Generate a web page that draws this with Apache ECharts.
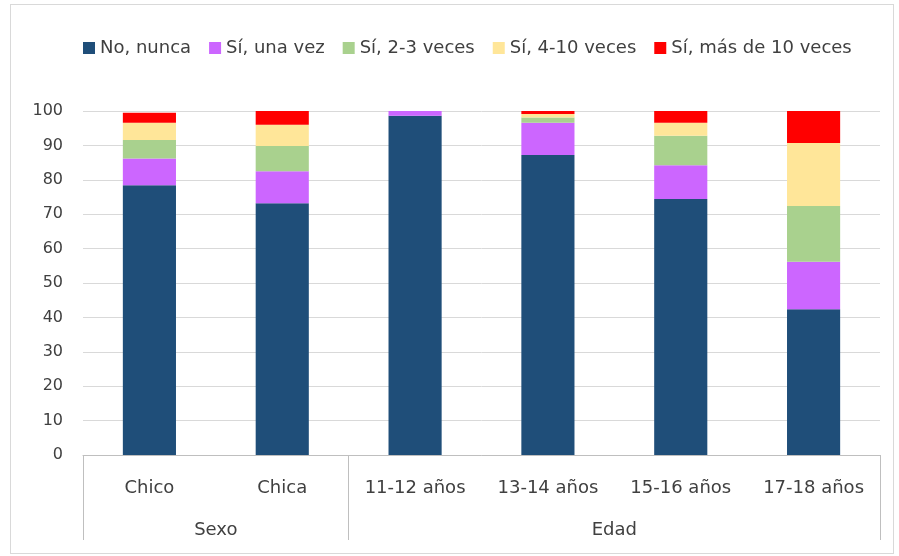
<!DOCTYPE html>
<html>
<head>
<meta charset="utf-8">
<script src="https://cdn.jsdelivr.net/npm/echarts@6/dist/echarts.min.js"></script>
<style>
html, body { margin: 0; padding: 0; background: #fff; }
#frame { position: absolute; left: 10px; top: 4px; width: 884px; height: 550px; border: 1px solid #d9d9d9; box-sizing: border-box; }
#main { position: absolute; left: 0; top: 0; width: 899px; height: 556px; }
</style>
</head>
<body>
<div id="frame"></div>
<div id="main"></div>
<script>
// categorias y grupos
const categories = ['Chico', 'Chica', '11-12 años', '13-14 años', '15-16 años', '17-18 años'];
const groupNames = ['Sexo', 'Edad'];
const groupSizes = [2, 4];

const seriesNames = ['No, nunca', 'Sí, una vez', 'Sí, 2-3 veces', 'Sí, 4-10 veces', 'Sí, más de 10 veces'];
const noNunca   = [78.4, 73.2, 98.6, 87.2, 74.4, 42.4];
const unaVez    = [7.8, 9.3, 1.4, 9.4, 9.8, 13.8];
const dosTres   = [5.4, 7.3, 0, 1.5, 8.6, 16.2];
const cuatroDiez = [5.0, 6.2, 0, 1.0, 3.8, 18.3];
const masDiez   = [2.9, 4.0, 0, 0.9, 3.4, 9.3];
const yTicks = [0, 10, 20, 30, 40, 50, 60, 70, 80, 90, 100];

const colors = ['#1F4E79', '#CC66FF', '#A9D18E', '#FFE699', '#FF0000'];
const values = [noNunca, unaVez, dosTres, cuatroDiez, masDiez];

// limites y centros de los grupos (en unidades de categoria)
let bounds = [0];
let centers = [];
groupSizes.forEach(function (s) {
    let start = bounds[bounds.length - 1];
    centers.push(start + s / 2);
    bounds.push(start + s);
});

let chart = echarts.init(document.getElementById('main'));
let font = 'DejaVu Sans';

let option = {
    animation: false,
    color: colors,
    legend: {
        left: 78,
        top: 34,
        itemWidth: 12,
        itemHeight: 12,
        itemGap: 18,
        icon: 'rect',
        textStyle: { fontFamily: font, fontSize: 18, color: '#404040' },
        data: seriesNames
    },
    grid: { left: 83, right: 19, top: 111, bottom: 101 },
    xAxis: [
        {
            type: 'category',
            data: categories,
            axisLine: { lineStyle: { color: '#BFBFBF' } },
            axisTick: { show: false },
            axisLabel: { fontFamily: font, fontSize: 18, color: '#404040', margin: 24, interval: 0 }
        },
        {
            type: 'value',
            min: 0,
            max: categories.length,
            position: 'bottom',
            axisLine: { show: false },
            splitLine: { show: false },
            axisTick: { show: true, customValues: bounds, length: 85, lineStyle: { color: '#BFBFBF' } },
            axisLabel: {
                customValues: centers,
                fontFamily: font, fontSize: 18, color: '#404040', margin: 66,
                formatter: function (v) {
                    let i = centers.indexOf(v);
                    return i >= 0 ? groupNames[i] : '';
                }
            }
        }
    ],
    yAxis: {
        type: 'value',
        min: yTicks[0],
        max: yTicks[yTicks.length - 1],
        interval: 10,
        axisLine: { show: false },
        axisTick: { show: false },
        splitLine: { lineStyle: { color: '#D9D9D9' } },
        axisLabel: { fontFamily: font, fontSize: 16, color: '#404040', margin: 20 }
    },
    series: seriesNames.map(function (name, i) {
        return {
            name: name,
            type: 'bar',
            stack: 'total',
            barWidth: '40%',
            xAxisIndex: 0,
            data: values[i]
        };
    })
};
chart.setOption(option);
</script>
</body>
</html>
